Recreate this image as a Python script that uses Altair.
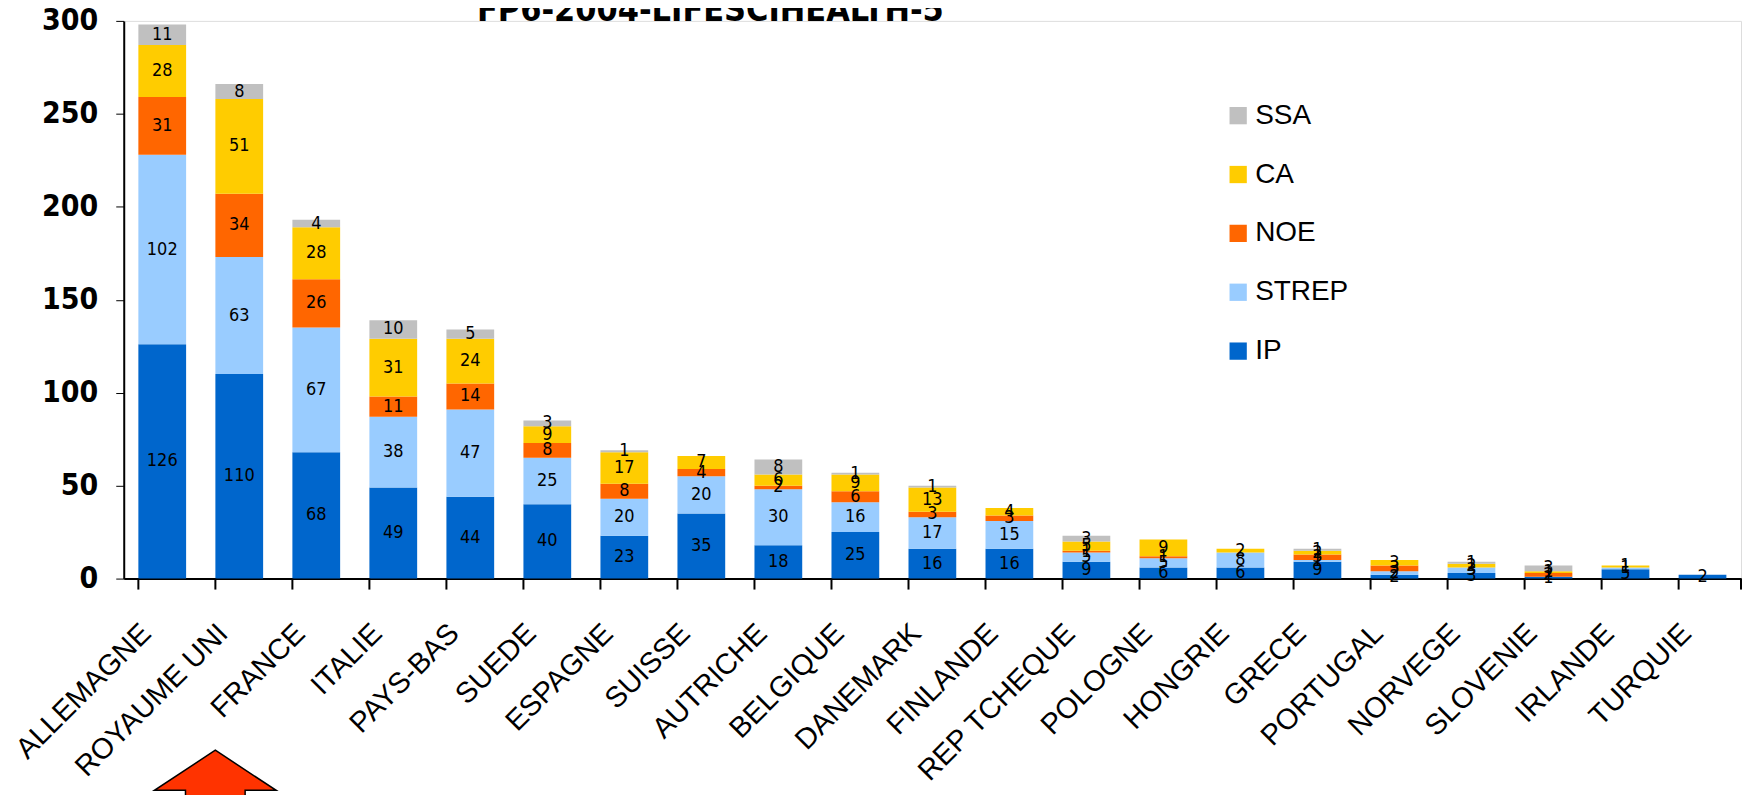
import altair as alt
import pandas as pd

countries = ["ALLEMAGNE", "ROYAUME UNI", "FRANCE", "ITALIE", "PAYS-BAS", "SUEDE",
             "ESPAGNE", "SUISSE", "AUTRICHE", "BELGIQUE", "DANEMARK", "FINLANDE",
             "REP TCHEQUE", "POLOGNE", "HONGRIE", "GRECE", "PORTUGAL", "NORVEGE",
             "SLOVENIE", "IRLANDE", "TURQUIE"]
IP    = [126, 110, 68, 49, 44, 40, 23, 35, 18, 25, 16, 16, 9, 6, 6, 9, 2, 3, 1, 5, 2]
STREP = [102, 63, 67, 38, 47, 25, 20, 20, 30, 16, 17, 15, 5, 5, 8, 1, 2, 3, 0, 1, 0]
NOE   = [31, 34, 26, 11, 14, 8, 8, 4, 2, 6, 3, 3, 1, 1, 0, 3, 3, 0, 2, 0, 0]
CA    = [28, 51, 28, 31, 24, 9, 17, 7, 6, 9, 13, 4, 5, 9, 2, 2, 3, 2, 1, 1, 0]
SSA   = [11, 8, 4, 10, 5, 3, 1, 0, 8, 1, 1, 0, 3, 0, 0, 1, 0, 1, 3, 0, 0]

series_names = ["IP", "STREP", "NOE", "CA", "SSA"]
series_vals = [IP, STREP, NOE, CA, SSA]
colors = {"SSA": "#C0C0C0", "CA": "#FFCC00", "NOE": "#FF6600", "STREP": "#99CCFF", "IP": "#0066CC"}
title_text = "FP6-2004-LIFESCIHEALTH-5"

rows = []
for k, (name, vals) in enumerate(zip(series_names, series_vals)):
    for c, v in zip(countries, vals):
        rows.append({"country": c, "type": name, "value": v, "ord": k})
df = pd.DataFrame(rows)

W, H = 1621, 559
legend_order = ["SSA", "CA", "NOE", "STREP", "IP"]
COND = "DejaVu Sans Condensed, Liberation Sans, sans-serif"

xscale = alt.Scale(domain=countries, paddingInner=0.38, paddingOuter=0.19)
yscale = alt.Scale(domain=[0, 300])

base = alt.Chart(df).transform_stack(
    stack="value", groupby=["country"], as_=["y0", "y1"], sort=[alt.SortField("ord")]
).transform_calculate(mid="(datum.y0 + datum.y1) / 2")

bars = base.mark_bar().encode(
    x=alt.X("country:N", scale=xscale, sort=countries, title=None,
            axis=alt.Axis(labelAngle=-45, labelFontSize=29, labelFont="Liberation Sans",
                          labelColor="black", ticks=False, domainColor="black",
                          domainWidth=2, labelPadding=40, labelOffset=-26,
                          labelFontWeight="normal", labelLimit=0)),
    y=alt.Y("y0:Q", scale=yscale, title=None,
            axis=alt.Axis(values=[0, 50, 100, 150, 200, 250, 300], grid=False,
                          labelFont=COND, labelFontWeight="bold",
                          labelFontSize=30, labelColor="black", tickColor="black",
                          tickSize=8, domainColor="black", domainWidth=2, labelPadding=18)),
    y2="y1:Q",
    color=alt.Color("type:N", scale=alt.Scale(domain=legend_order,
                                              range=[colors[t] for t in legend_order]),
                    legend=alt.Legend(title=None, orient="none", legendX=1103, legendY=81,
                                      symbolType="square", symbolSize=300,
                                      symbolStrokeWidth=0, labelFontSize=28,
                                      labelFont="Liberation Sans", labelColor="black",
                                      rowPadding=31, labelOffset=3)),
)

labels = base.transform_filter("datum.value > 0").mark_text(
    font=COND, fontSize=18, color="black", baseline="middle"
).encode(
    x=alt.X("country:N", scale=xscale, sort=countries),
    y=alt.Y("mid:Q", scale=yscale),
    text="value:Q",
)

tick_df = pd.DataFrame({"country": countries})
ticks = alt.Chart(tick_df).mark_rule(color="black", strokeWidth=2).encode(
    x=alt.X("country:N", scale=xscale, sort=countries, bandPosition=0),
    y=alt.value(H),
    y2=alt.value(H + 11),
)
end_tick = alt.Chart(pd.DataFrame({"a": [0]})).mark_rule(color="black", strokeWidth=2).encode(
    x=alt.value(W), y=alt.value(H), y2=alt.value(H + 11)
)

title = alt.Chart(pd.DataFrame({"t": [title_text]})).mark_text(
    font=COND, fontWeight="bold", fontSize=34, color="black",
    baseline="alphabetic", align="center"
).encode(x=alt.value(588), y=alt.value(0), text="t:N")

arrow = alt.Chart(pd.DataFrame({"country": ["ROYAUME UNI"]})).mark_point(
    shape="M0,-1 L1,-0.34 L0.49,-0.34 L0.49,1 L-0.49,1 L-0.49,-0.34 L-1,-0.34 Z",
    filled=True, fill="#FF3300", stroke="black", strokeWidth=1.5, opacity=1,
    size=14884, xOffset=-24
).encode(
    x=alt.X("country:N", scale=xscale, sort=countries),
    y=alt.value(792),
)

chart = alt.layer(bars, labels, ticks, end_tick, title, arrow).properties(
    width=W, height=H,
    autosize=alt.AutoSizeParams(type="none"),
    padding={"left": 116, "top": 12, "right": 4, "bottom": 216},
).configure_view(stroke=None).configure(background="white")

chart.save("out.html", embed_options={"renderer": "svg", "actions": False})
